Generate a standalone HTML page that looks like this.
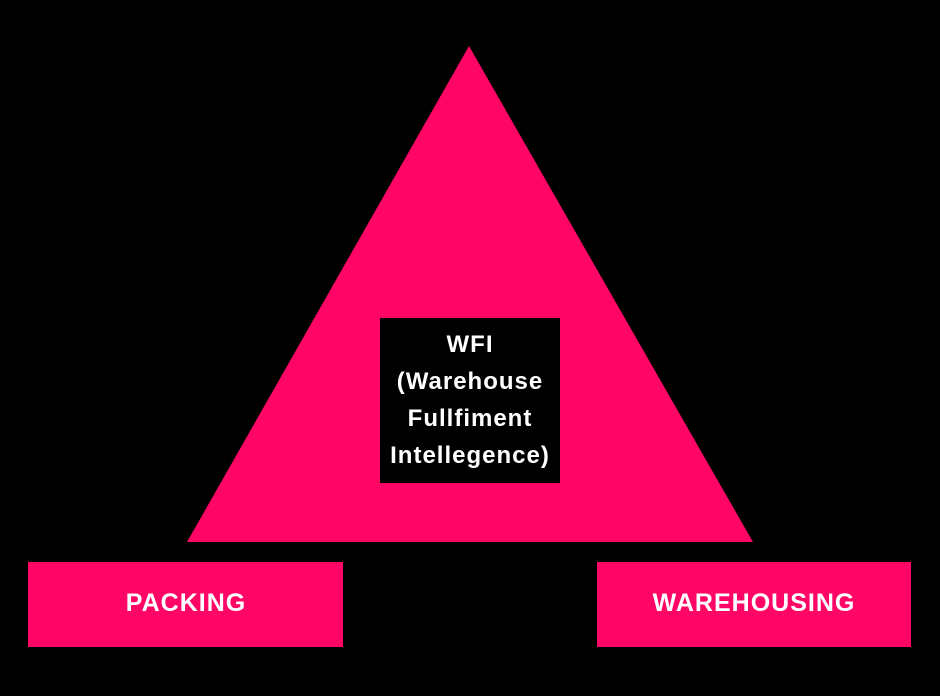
<!DOCTYPE html>
<html><head><style>
html,body{margin:0;padding:0;background:#000;width:940px;height:696px;overflow:hidden;}
svg{display:block}
text{font-family:"Liberation Sans",sans-serif;font-weight:bold;fill:#fff;}
</style></head><body>
<svg width="940" height="696" viewBox="0 0 940 696">
<rect width="940" height="696" fill="#000"/>
<polygon points="469,46 187,542 753,542" fill="#FF0566"/>
<rect x="380" y="318" width="180" height="165" fill="#000"/>
<g font-size="24" text-anchor="middle" letter-spacing="1">
<text x="470" y="352">WFI</text>
<text x="470" y="389">(Warehouse</text>
<text x="470" y="426">Fullfiment</text>
<text x="470" y="463">Intellegence)</text>
</g>
<rect x="28" y="562" width="315" height="85" fill="#FF0566"/>
<rect x="597" y="562" width="314" height="85" fill="#FF0566"/>
<g font-size="25" text-anchor="middle" letter-spacing="1">
<text x="186" y="611">PACKING</text>
<text x="754" y="611">WAREHOUSING</text>
</g>
</svg>
</body></html>
